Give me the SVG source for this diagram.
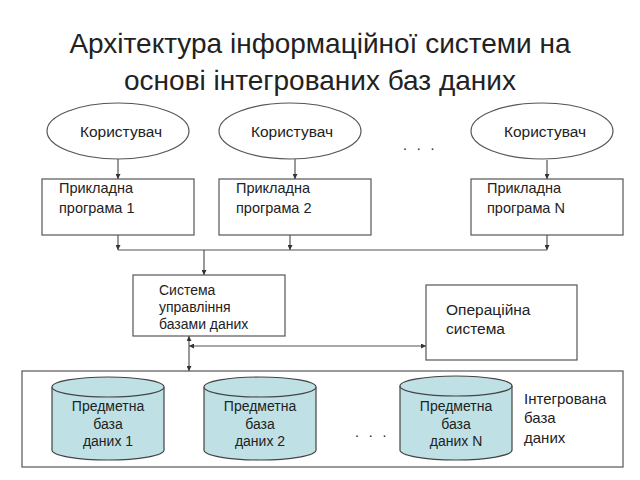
<svg xmlns="http://www.w3.org/2000/svg" width="640" height="480" viewBox="0 0 640 480">
<defs>
<style>
text{font-family:"Liberation Sans",Arial,sans-serif;fill:#222}
.title{font-size:28px;text-anchor:middle}
.tu{font-size:15.5px;text-anchor:middle}
.ta{font-size:14.5px}
.td{font-size:14px}
.to{font-size:15.5px}
.tc{font-size:14px;text-anchor:middle}
.ti{font-size:15px}
.node{fill:#fff;stroke:#555;stroke-width:1.2}
.cyl{fill:#bfe1e6;stroke:#444;stroke-width:1.2}
.con{fill:none;stroke:#555;stroke-width:1.2}
</style>
<marker id="ah" viewBox="0 0 6 6" refX="6" refY="3" markerWidth="5" markerHeight="5" orient="auto-start-reverse" markerUnits="userSpaceOnUse">
<path d="M0,0 L6,3 L0,6 z" fill="#333"/>
</marker>
</defs>
<rect width="640" height="480" fill="#fff"/>
<text class="title" x="320" y="53">Архітектура інформаційної системи на</text>
<text class="title" x="320" y="90">основі інтегрованих баз даних</text>

<g id="integrated-db">
<rect class="node" x="22" y="371" width="601" height="96" stroke="#777"/>
<text class="ti" x="524" y="404">Інтегрована</text>
<text class="ti" x="524" y="423">база</text>
<text class="ti" x="524" y="443">даних</text>
<text class="td" x="355" y="437" letter-spacing="3">. . .</text>
</g>

<g id="user1"><ellipse class="node" cx="118" cy="131" rx="71" ry="28"/><text class="tu" x="121" y="137">Користувач</text></g>
<g id="user2"><ellipse class="node" cx="290" cy="131" rx="71" ry="28"/><text class="tu" x="292" y="137">Користувач</text></g>
<g id="user3"><ellipse class="node" cx="542" cy="131" rx="71" ry="28"/><text class="tu" x="545" y="137">Користувач</text></g>
<text class="td" x="403" y="150" letter-spacing="3">. . .</text>

<g id="app1"><rect class="node" x="42" y="179" width="152" height="56"/><text class="ta" x="59" y="193">Прикладна</text><text class="ta" x="59" y="213">програма 1</text></g>
<g id="app2"><rect class="node" x="219" y="179" width="152" height="56"/><text class="ta" x="236" y="193">Прикладна</text><text class="ta" x="236" y="213">програма 2</text></g>
<g id="appN"><rect class="node" x="471" y="179" width="152" height="56"/><text class="ta" x="487" y="193">Прикладна</text><text class="ta" x="487" y="213">програма N</text></g>

<g id="dbms"><rect class="node" x="133" y="275" width="152" height="61"/><text class="td" x="159" y="295">Система</text><text class="td" x="159" y="312">управління</text><text class="td" x="159" y="329">базами даних</text></g>

<g id="os"><rect class="node" x="426" y="285" width="151" height="75"/><text class="to" x="446" y="315">Операційна</text><text class="to" x="446" y="334">система</text></g>

<g id="db1"><path class="cyl" d="M52,387 L52,450 A56,10 0 0 0 164,450 L164,387"/><ellipse class="cyl" cx="108" cy="387" rx="56" ry="10"/><text class="tc" x="108" y="411">Предметна</text><text class="tc" x="108" y="429">база</text><text class="tc" x="108" y="446">даних 1</text></g>
<g id="db2"><path class="cyl" d="M204,387 L204,450 A56,10 0 0 0 316,450 L316,387"/><ellipse class="cyl" cx="260" cy="387" rx="56" ry="10"/><text class="tc" x="260" y="411">Предметна</text><text class="tc" x="260" y="429">база</text><text class="tc" x="260" y="446">даних 2</text></g>
<g id="dbN"><path class="cyl" d="M400,386 L400,450 A56,10 0 0 0 512,450 L512,386"/><ellipse class="cyl" cx="456" cy="386" rx="56" ry="10"/><text class="tc" x="456" y="411" font-size="13.5">Предметна</text><text class="tc" x="456" y="429" font-size="13.5">база</text><text class="tc" x="456" y="446" font-size="13.5">даних N</text></g>

<g id="connectors">
<line class="con" x1="118" y1="159" x2="118" y2="179" marker-end="url(#ah)"/>
<line class="con" x1="295" y1="159" x2="295" y2="179" marker-end="url(#ah)"/>
<line class="con" x1="547" y1="160" x2="547" y2="179" marker-end="url(#ah)"/>
<line class="con" x1="118" y1="235" x2="118" y2="250" marker-end="url(#ah)"/>
<line class="con" x1="290" y1="235" x2="290" y2="250" marker-end="url(#ah)"/>
<line class="con" x1="547" y1="235" x2="547" y2="250" marker-end="url(#ah)"/>
<line class="con" x1="118" y1="250" x2="547" y2="250"/>
<line class="con" x1="204" y1="250" x2="204" y2="275" marker-end="url(#ah)"/>
<line class="con" x1="189" y1="336" x2="189" y2="371" marker-start="url(#ah)" marker-end="url(#ah)"/>
<line class="con" x1="189" y1="346" x2="426" y2="346" marker-start="url(#ah)" marker-end="url(#ah)"/>
</g>
</svg>
